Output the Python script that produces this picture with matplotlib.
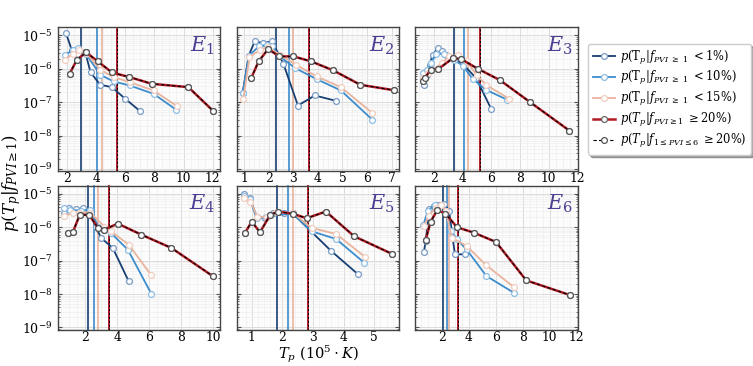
import numpy as np
import matplotlib
matplotlib.use("Agg")
import matplotlib.pyplot as plt

plt.rcParams['font.family'] = ['DejaVu Serif']
plt.rcParams['mathtext.fontset'] = 'dejavuserif'

# Panel data: x in 10^5 K, y as log10 of probability
panels = ["E_1", "E_2", "E_3", "E_4", "E_5", "E_6"]

e1_x = [[1.93, 2.32, 2.75, 3.25, 3.62, 4.28, 5.08, 6.0, 7.02],
        [1.86, 2.39, 2.77, 3.3, 4.28, 5.2, 6.3, 7.94, 9.47],
        [1.86, 2.4, 2.85, 3.3, 4.28, 5.2, 6.3, 7.94, 9.55],
        [2.18, 2.68, 3.32, 4.12, 5.08, 6.29, 7.82, 10.33, 12.0]]
e1_y = [[-4.93, -5.43, -5.55, -5.5, -6.11, -6.48, -6.55, -6.9, -7.27],
        [-5.58, -5.45, -5.38, -5.55, -6.18, -6.38, -6.5, -6.75, -7.22],
        [-5.73, -5.55, -5.45, -5.52, -6.03, -6.25, -6.4, -6.65, -7.12],
        [-6.15, -5.73, -5.51, -5.78, -6.11, -6.25, -6.45, -6.55, -7.25]]
e1_v = [2.94, 4.03, 4.42, 5.45]

e2_x = [[0.94, 1.18, 1.43, 1.77, 2.14, 2.6, 3.19, 3.88, 4.74],
        [0.94, 1.2, 1.6, 1.93, 2.14, 2.45, 3.08, 3.95, 4.94, 6.21],
        [0.97, 1.22, 1.65, 1.97, 2.45, 3.11, 3.95, 4.94, 6.21],
        [1.29, 1.59, 1.98, 2.43, 3.01, 3.73, 4.63, 5.73, 7.08]]
e2_y = [[-6.74, -5.63, -5.18, -5.23, -5.18, -5.85, -7.1, -6.8, -6.96],
        [-6.74, -5.61, -5.33, -5.28, -5.33, -5.63, -5.98, -6.31, -6.65, -7.52],
        [-6.9, -5.65, -5.43, -5.35, -5.58, -5.88, -6.23, -6.55, -7.32],
        [-6.28, -5.78, -5.41, -5.63, -5.63, -5.78, -6.05, -6.48, -6.64]]
e2_v = [2.30, 2.81, 2.99, 3.63]

e3_x = [[1.31, 1.50, 1.7, 1.91, 2.30, 2.6, 2.88, 3.34, 4.0, 4.94, 5.98],
        [1.22, 1.55, 1.8, 2.15, 2.7, 3.4, 4.02, 4.7, 5.63, 7.12],
        [1.26, 1.6, 1.9, 2.6, 3.05, 3.67, 4.3, 5.0, 5.63, 7.24],
        [1.26, 1.38, 1.77, 2.30, 3.34, 3.91, 5.06, 6.6, 8.67, 11.43]]
e3_y = [[-6.48, -6.18, -5.9, -5.58, -5.38, -5.48, -5.58, -5.68, -5.85, -6.28, -7.19],
        [-6.13, -6.03, -5.83, -5.55, -5.55, -5.73, -5.91, -6.3, -6.63, -6.93],
        [-6.28, -6.13, -6.03, -5.83, -5.63, -5.58, -5.78, -6.2, -6.48, -6.9],
        [-6.38, -6.28, -6.03, -6.01, -5.68, -5.71, -6.0, -6.34, -6.99, -7.85]]
e3_v = [3.40, 4.09, 4.37, 5.22]

e4_x = [[0.68, 0.97, 1.43, 1.85, 2.23, 2.65, 2.99, 3.72, 4.72],
        [0.68, 1.05, 1.7, 2.3, 2.82, 3.6, 4.66, 6.13],
        [0.68, 1.2, 1.6, 2.3, 3.2, 3.6, 4.72, 6.13],
        [0.89, 1.22, 1.64, 2.21, 2.8, 3.19, 4.03, 5.5, 7.39, 10.0]]
e4_y = [[-5.56, -5.43, -5.46, -5.43, -5.50, -5.98, -6.32, -6.62, -7.62],
        [-5.43, -5.48, -5.5, -5.48, -5.98, -6.17, -6.67, -7.99],
        [-5.66, -5.58, -5.56, -5.56, -5.98, -6.12, -6.52, -7.44],
        [-6.17, -6.15, -5.64, -5.62, -6.01, -6.07, -5.89, -6.22, -6.62, -7.47]]
e4_v = [2.15, 2.57, 2.77, 3.47]

e5_x = [[0.75, 0.94, 1.16, 1.43, 1.7, 2.06, 2.33, 3.58, 4.47],
        [0.75, 0.94, 1.16, 1.46, 2.33, 2.95, 3.75, 4.67],
        [0.75, 0.96, 1.18, 1.49, 1.8, 2.36, 2.95, 3.75, 4.7],
        [0.78, 1.0, 1.27, 1.60, 1.87, 2.36, 2.79, 3.42, 4.34, 5.56]]
e5_y = [[-5.0, -5.13, -5.68, -5.73, -5.58, -5.58, -5.58, -6.70, -7.41],
        [-5.06, -5.16, -5.73, -5.68, -5.58, -6.12, -6.35, -7.06],
        [-5.13, -5.23, -5.68, -5.70, -5.53, -5.58, -6.02, -6.20, -6.89],
        [-6.17, -5.83, -6.15, -5.63, -5.53, -5.60, -5.73, -5.53, -6.27, -6.79]]
e5_v = [1.81, 2.17, 2.34, 2.82]

e6_x = [[0.69, 0.82, 1.1, 1.4, 1.75, 2.2, 2.55, 2.98, 3.72],
        [0.65, 1.0, 1.5, 1.95, 2.3, 2.7, 3.1, 3.84, 5.31, 7.34],
        [0.69, 1.05, 1.55, 1.95, 2.3, 2.76, 3.84, 5.31, 7.34],
        [0.81, 1.18, 1.67, 2.28, 3.14, 4.37, 6.02, 8.26, 11.5]]
e6_y = [[-6.74, -6.41, -5.45, -5.35, -5.32, -5.30, -5.50, -6.81, -6.81],
        [-5.92, -5.5, -5.33, -5.33, -5.5, -6.1, -6.35, -6.66, -7.46, -7.96],
        [-5.97, -5.65, -5.43, -5.32, -5.5, -6.31, -6.56, -7.14, -7.79],
        [-6.39, -5.84, -5.49, -5.59, -6.0, -6.16, -6.44, -7.59, -8.03]]
e6_v = [2.07, 2.41, 2.54, 3.22]

all_x = [e1_x, e2_x, e3_x, e4_x, e5_x, e6_x]
all_y = [e1_y, e2_y, e3_y, e4_y, e5_y, e6_y]
all_v = [e1_v, e2_v, e3_v, e4_v, e5_v, e6_v]
xlims = [(1.35, 12.5), (0.70, 7.31), (0.69, 12.0), (0.26, 10.43), (0.51, 5.81), (0.03, 12.05)]
xticks = [[2, 4, 6, 8, 10, 12], [1, 2, 3, 4, 5, 6, 7], [2, 4, 6, 8, 10, 12],
          [2, 4, 6, 8, 10], [1, 2, 3, 4, 5], [2, 4, 6, 8, 10, 12]]

colors = ['#173f73', '#3d8ccc', '#e8b49e', '#b01c25']
mec = ['#7a9cc4', '#8ebde3', '#f0cdbf', '#666666']
labels = [r'$p(\mathrm{T}_p|f_{PVI\ \geq\ 1}\ <1\%)$',
          r'$p(\mathrm{T}_p|f_{PVI\ \geq\ 1}\ <10\%)$',
          r'$p(\mathrm{T}_p|f_{PVI\ \geq\ 1}\ <15\%)$',
          r'$p(T_p|f_{PVI\geq1}\ \geq 20\%)$',
          r'$p(T_p|f_{1\leq PVI\leq6}\ \geq 20\%)$']

fig = plt.figure(figsize=(7.53, 3.66), dpi=100)
W, H = 753, 366
lefts = [57.5, 236.7, 415]
tops = [27, 185.5]
aw, ah = 162.5, 144

handles = []
for i in range(6):
    r, c = divmod(i, 3)
    ax = fig.add_axes([lefts[c] / W, 1 - (tops[r] + ah) / H, aw / W, ah / H])
    ax.set_facecolor('#fcfcfc')
    for k in range(4):
        xs = all_x[i][k]
        ys = 10 ** np.array(all_y[i][k])
        h, = ax.plot(xs, ys, '-o', color=colors[k], lw=1.3 if k < 3 else 1.8,
                     ms=4.2, mfc='white', mec=mec[k], mew=0.9, zorder=3 + k)
        if i == 0:
            handles.append(h)
        if k == 3:
            h2, = ax.plot(xs, ys, '--o', color='black', lw=0.8, ms=4.2,
                          mfc='white', mec='#555555', mew=0.9, zorder=8,
                          dashes=(3, 2))
            if i == 0:
                handles.append(h2)
    for k, v in enumerate(all_v[i]):
        ax.axvline(v, color=colors[k], lw=1.2 if k < 3 else 1.4, zorder=2)
    ax.axvline(all_v[i][3], color='black', lw=0.7, ls=(0, (2, 2)), zorder=2)

    ax.set_yscale('log')
    ax.set_ylim(10 ** -9.06, 10 ** -4.75)
    ax.set_xlim(*xlims[i])
    ax.set_xticks(xticks[i])
    ax.minorticks_on()
    ax.grid(True, which='major', color='#dcdcdc', lw=0.7)
    ax.grid(True, which='minor', color='#eeeeee', lw=0.5)
    ax.set_axisbelow(True)
    ax.tick_params(which='both', direction='in', top=False, right=True,
                   labelsize=9, color='#555555')
    ax.tick_params(which='major', length=3)
    ax.tick_params(which='minor', length=1.5)
    ax.tick_params(axis='x', which='both', length=0, pad=1.0, labelsize=8.8)
    ax.set_yticks([1e-9, 1e-8, 1e-7, 1e-6, 1e-5])
    if c != 0:
        ax.set_yticklabels([])
    for s in ax.spines.values():
        s.set_color('#444444')
        s.set_linewidth(1.0)
    ax.text(0.97, 0.95, '$' + panels[i] + '$', transform=ax.transAxes,
            ha='right', va='top', fontsize=15, color='#4b3e93', zorder=10)

fig.text(12 / W, 0.5, r'$p(T_p|f_{PVI\geq1})$', rotation=90, va='center',
         ha='center', fontsize=12)
fig.text(318 / W, 0.002, r'$T_p\ (10^5\cdot K)$', ha='center',
         va='bottom', fontsize=10.5)

leg = fig.legend(handles, labels, loc='upper left',
                 bbox_to_anchor=(588 / W, 1 - 44 / H), fontsize=8.3,
                 frameon=True, fancybox=True, shadow=True, handlelength=1.9,
                 borderpad=0.4, labelspacing=0.25, handletextpad=0.5,
                 borderaxespad=0.0)
leg.get_frame().set_edgecolor('#cccccc')

fig.savefig('out.png', dpi=100)
